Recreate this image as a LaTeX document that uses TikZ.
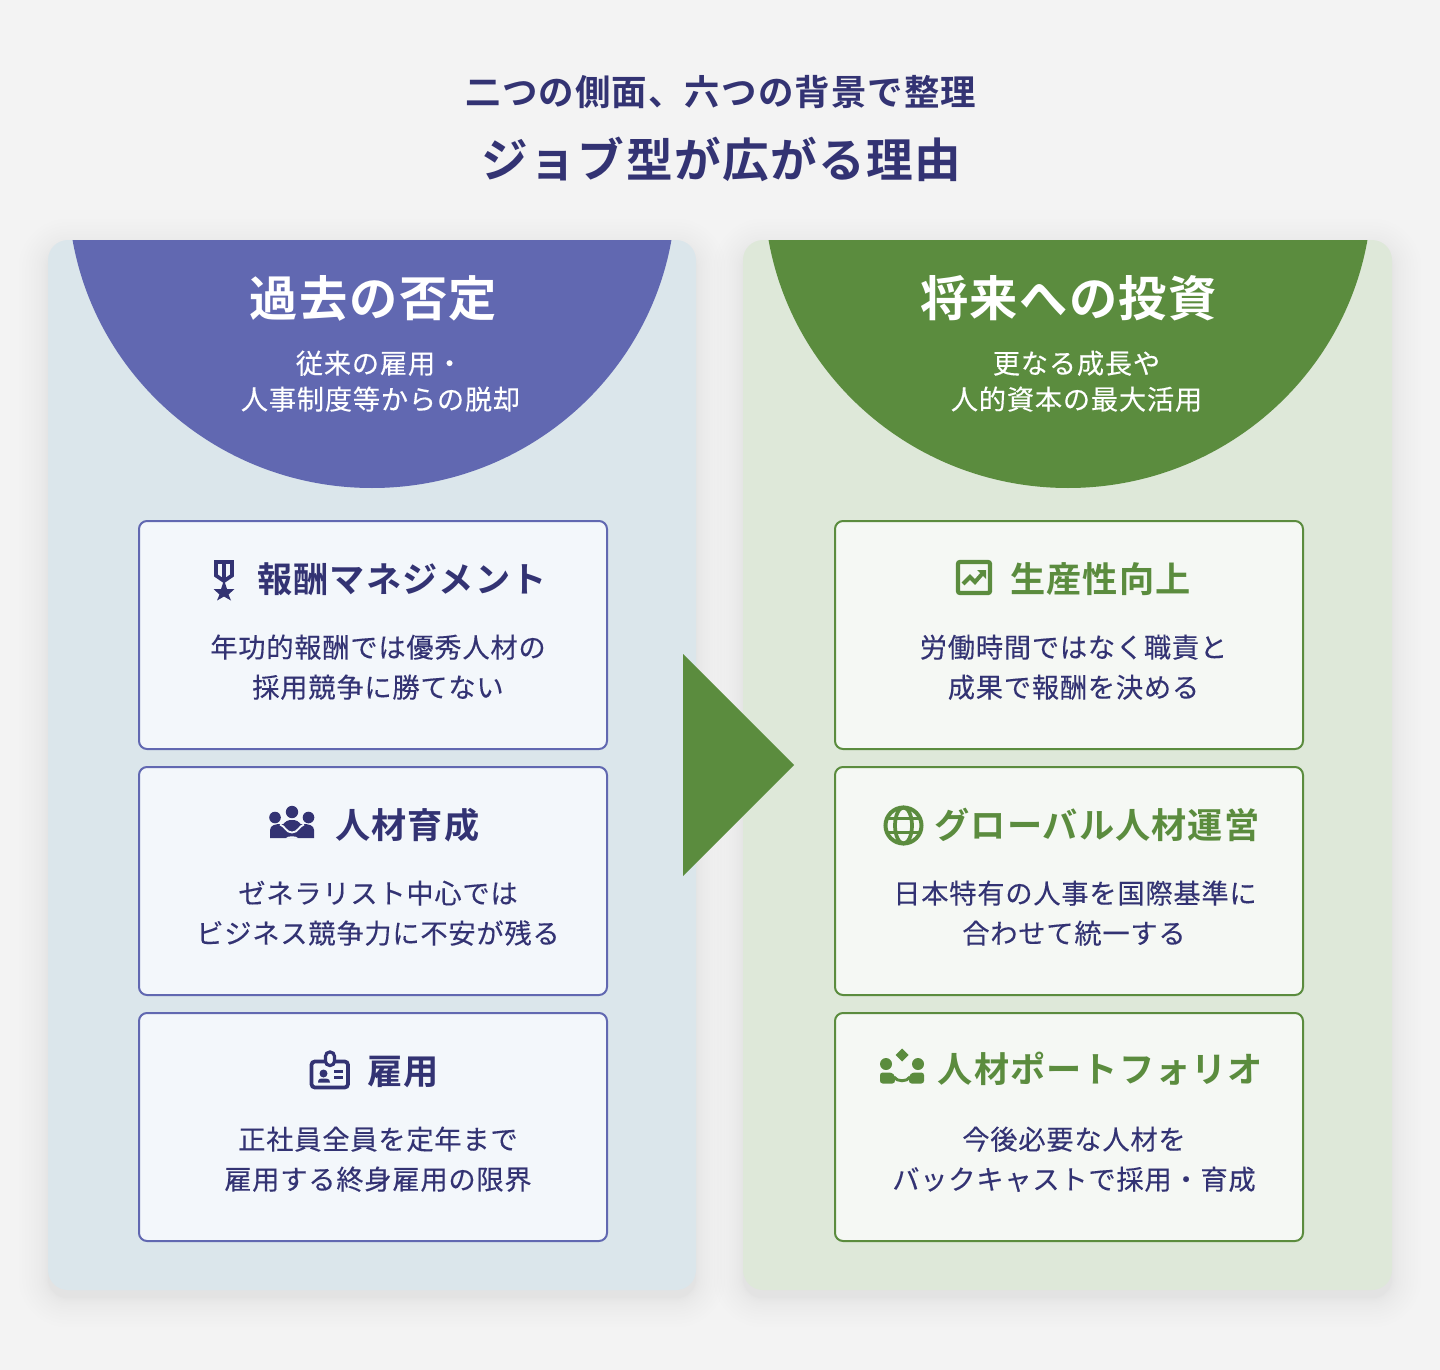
\documentclass[tikz,border=0pt]{standalone}
\usepackage{fontspec}
\newfontfamily\jpr[FakeBold=0.25,LetterSpace=3]{Noto Sans CJK JP}
\newfontfamily\jpb[LetterSpace=3]{Noto Sans CJK JP Bold}
\definecolor{bgc}{HTML}{F3F3F3}
\definecolor{lpanel}{HTML}{DBE6EB}
\definecolor{rpanel}{HTML}{DEE8D9}
\definecolor{pur}{HTML}{6168B1}
\definecolor{grn}{HTML}{5B8C3E}
\definecolor{navy}{HTML}{333373}
\definecolor{lcard}{HTML}{F3F7FB}
\definecolor{rcard}{HTML}{F5F8F4}
\tikzset{
  x=0.75pt,y=-0.75pt,
  lbl/.style={anchor=base,inner sep=0pt,outer sep=0pt},
  titlea/.style={lbl,text=navy,font={\jpb\fontsize{26.6pt}{26.6pt}\selectfont}},
  titleb/.style={lbl,text=navy,font={\jpb\fontsize{35pt}{35pt}\selectfont}},
  headw/.style={lbl,text=white,font={\jpb\fontsize{36.2pt}{36.2pt}\selectfont}},
  subw/.style={lbl,text=white,font={\jpr\fontsize{20.4pt}{20.4pt}\selectfont}},
  cardhl/.style={lbl,text=navy,font={\jpb\fontsize{26.4pt}{26.4pt}\selectfont}},
  cardhr/.style={lbl,text=grn,font={\jpb\fontsize{26.4pt}{26.4pt}\selectfont}},
  bodyt/.style={lbl,text=navy,font={\jpr\fontsize{20.4pt}{20.4pt}\selectfont}},
  lcardbox/.style={draw=pur,fill=lcard,line width=1.5pt,rounded corners=6pt},
  rcardbox/.style={draw=grn,fill=rcard,line width=1.5pt,rounded corners=6pt},
  iconl/.style={fill=navy,draw=none},
  iconr/.style={fill=grn,draw=none},
}
\begin{document}
\begin{tikzpicture}
\useasboundingbox (0,0) rectangle (1440,1370);
\fill[bgc] (0,0) rectangle (1440,1370);
% shadows
\foreach \i in {1,...,16}{
  \pgfmathsetmacro{\dd}{0.115*\i*\i}
  \fill[black,opacity=0.003,rounded corners=15pt+\dd*0.75pt]
    (48-\dd,240+8-\dd) rectangle (696+\dd,1290+8+\dd);
  \fill[black,opacity=0.003,rounded corners=15pt+\dd*0.75pt]
    (743-\dd,240+8-\dd) rectangle (1392+\dd,1290+8+\dd);
}
% panels
\fill[lpanel,rounded corners=15pt] (48,240) rectangle (696,1290);
\fill[rpanel,rounded corners=15pt] (743,240) rectangle (1392,1290);
% caps
\begin{scope}
  \clip (0,240) rectangle (1440,600);
  \fill[pur] (372,188) ellipse [x radius=304,y radius=300];
  \fill[grn] (1068,188) ellipse [x radius=304,y radius=300];
\end{scope}
% arrow
\fill[grn] (683,654) -- (794,765) -- (683,876) -- cycle;
% titles
\node[titlea] (t1) at (721,105.5) {二つの側面、六つの背景で整理};
\node[titleb] (t2) at (721.5,177.5) {ジョブ型が広がる理由};
% headers
\node[headw] (hl) at (373.5,316) {過去の否定};
\node[subw] (sl1) at (379.5,373.5) {従来の雇用・};
\node[subw] (sl2) at (380.5,409.5) {人事制度等からの脱却};
\node[headw] (hr) at (1068.5,316) {将来への投資};
\node[subw] (sr1) at (1076.5,373.5) {更なる成長や};
\node[subw] (sr2) at (1076.5,409.5) {人的資本の最大活用};
% cards
\foreach \n/\yy in {a/520,b/766,c/1012}{
  \draw[lcardbox] (139,\yy+1) rectangle (607,\yy+229);
  \draw[rcardbox] (835,\yy+1) rectangle (1303,\yy+229);
}
% left card text
\node[cardhl] (h1) at (402,592) {報酬マネジメント};
\node[bodyt] (b11) at (378,657.5) {年功的報酬では優秀人材の};
\node[bodyt] (b12) at (378,697.5) {採用競争に勝てない};
\node[cardhl] (h2) at (407.5,838) {人材育成};
\node[bodyt] (b21) at (378,903.5) {ゼネラリスト中心では};
\node[bodyt] (b22) at (378,943.5) {ビジネス競争力に不安が残る};
\node[cardhl] (h3) at (403.5,1084) {雇用};
\node[bodyt] (b31) at (378,1149.5) {正社員全員を定年まで};
\node[bodyt] (b32) at (378,1189.5) {雇用する終身雇用の限界};
% right card text
\node[cardhr] (h4) at (1100.5,592) {生産性向上};
\node[bodyt] (b41) at (1073.5,657.5) {労働時間ではなく職責と};
\node[bodyt] (b42) at (1073.5,697.5) {成果で報酬を決める};
\node[cardhr] (h5) at (1097,838) {グローバル人材運営};
\node[bodyt] (b51) at (1075,903.5) {日本特有の人事を国際基準に};
\node[bodyt] (b52) at (1074,943.5) {合わせて統一する};
\node[cardhr] (h6) at (1100.5,1082) {人材ポートフォリオ};
\node[bodyt] (b61) at (1074,1149.5) {今後必要な人材を};
\node[bodyt] (b62) at (1074,1189.5) {バックキャストで採用・育成};
% icon medal
\draw[navy,line width=2.8pt,line join=miter] (216,562) -- (232,562) -- (232,575.5) -- (224,581) -- (216,575.5) -- cycle;
\draw[navy,line width=2.4pt] (224,562) -- (224,582);
\fill[navy] (224,580) -- (227,589) -- (234.5,589) -- (228.5,594.5) -- (231,600.5) -- (224,596.5) -- (217,600.5) -- (219.5,594.5) -- (213.5,589) -- (221,589) -- cycle;
% icon group
\fill[iconl] (275,817.5) circle [radius=5.8];
\fill[iconl] (292,812) circle [radius=6.2];
\fill[iconl] (308.5,817.5) circle [radius=5.8];
\fill[iconl] (270,838) -- (270,830) .. controls (270,825) and (276,824) .. (281,824) -- (303,824) .. controls (308,824) and (314,825) .. (314,830) -- (314,838) -- cycle;
\fill[iconl] (282,826) .. controls (285,821) and (288,820) .. (292,820) .. controls (296,820) and (299,821) .. (302,826) -- cycle;
\draw[lcard,line width=1.4pt] (280,824.5) .. controls (285,826) and (286,832.5) .. (292,832.5) .. controls (298,832.5) and (299,826) .. (304,824.5);
\fill[lcard] (285.5,838.5) .. controls (287,835.5) and (297,835.5) .. (298.5,838.5) -- cycle;
% icon badge
\draw[navy,line width=2.8pt,rounded corners=2.5pt] (311.5,1061.5) rectangle (348,1087.5);
\draw[navy,fill=lcard,line width=2.4pt,rounded corners=3.2pt] (325.5,1052) rectangle (334.5,1065.5);
\fill[navy] (323.5,1073.5) circle [radius=4];
\fill[navy] (318,1082.5) .. controls (318,1078) and (321,1078.5) .. (323.5,1078.5) .. controls (326,1078.5) and (330,1078) .. (330,1082.5) -- cycle;
\fill[navy] (334,1070) rectangle (343,1072.5);
\fill[navy] (334,1076) rectangle (343,1078.5);
% icon chart
\draw[grn,line width=3.2pt,rounded corners=1.5pt] (958,562) rectangle (990,593);
\draw[grn,line width=3pt] (963,584) -- (970,577) -- (975,582) -- (982,574);
\fill[grn] (986,570) -- (977,570) -- (986,579) -- cycle;
% icon globe
\draw[grn,line width=3pt] (903.5,825.5) circle [radius=18];
\draw[grn,line width=2.8pt] (903.5,825.5) ellipse [x radius=8.5,y radius=18];
\draw[grn,line width=2.8pt] (886,818.5) -- (921,818.5) (886,832.5) -- (921,832.5);
% icon portfolio
\fill[iconr] (902,1048.5) -- (908.5,1055) -- (902,1061.5) -- (895.5,1055) -- cycle;
\fill[iconr] (886,1064) circle [radius=6];
\fill[iconr] (918,1064) circle [radius=6];
\fill[iconr,rounded corners=2pt] (880,1083.5) -- (880,1072.5) -- (892,1072.5) -- (895,1076) -- (895,1083.5) -- cycle;
\fill[iconr,rounded corners=2pt] (924,1083.5) -- (924,1072.5) -- (912,1072.5) -- (909,1076) -- (909,1083.5) -- cycle;
\draw[grn,line width=2.2pt] (894,1077) .. controls (897,1082) and (907,1082) .. (910,1077);
\end{tikzpicture}
\end{document}
